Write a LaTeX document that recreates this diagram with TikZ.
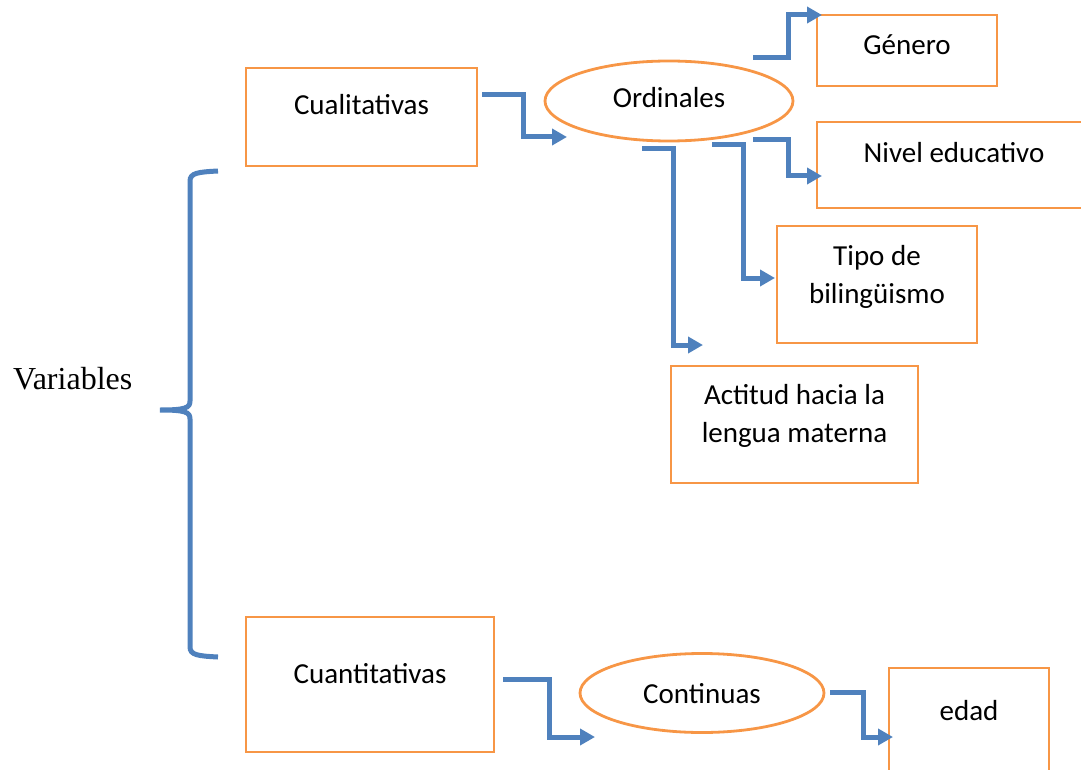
\documentclass[tikz,border=0pt]{standalone}
\usepackage{fontspec}
\setmainfont{Carlito}
\newfontfamily\varfont{Liberation Serif}
\usetikzlibrary{arrows.meta,shapes.geometric}

\definecolor{boxorange}{RGB}{247,150,70}
\definecolor{linkblue}{RGB}{79,129,189}

\tikzset{
  box/.style={draw=boxorange, line width=2.8pt, outer sep=0pt, inner sep=0pt,
    align=center, font=\fontsize{29}{38}\selectfont},
  oval/.style={box, ellipse},
  link/.style={draw=linkblue, line width=5pt, -{Triangle[length=15pt,width=16pt]}},
  lift/.style={text height=0pt, text depth=#1},
  drop/.style={text height=#1, text depth=0pt},
}

\begin{document}
\begin{tikzpicture}[x=1pt,y=-1pt]
\useasboundingbox (0,0) rectangle (1081,770);

% titulo y llave
\node[anchor=base west, inner sep=0pt, font=\varfont\fontsize{32}{36}\selectfont] (var) at (13,389) {Variables};
\draw[linkblue, line width=5pt] (218,171) .. controls (198,172) and (190,173) .. (190,181)
  -- (190,401) .. controls (190,408) and (185,410) .. (160,410)
  .. controls (185,410) and (190,412) .. (190,419)
  -- (190,647) .. controls (190,655) and (198,656) .. (218,657);

% cualitativas
\node[box, minimum width=231, minimum height=98, lift=4pt] (cuali) at (361.5,117) {Cualitativas};
\node[oval, minimum width=248, minimum height=80, drop=14pt] (ordi) at (669,101) {Ordinales};
\node[box, minimum width=180, minimum height=71, drop=9pt] (genero) at (907,50.5) {Género};
\node[box, minimum width=274, minimum height=86, lift=4pt] (nivel) at (954,165) {Nivel educativo};
\node[box, minimum width=200, minimum height=117, drop=37pt] (tipo) at (877,284.5) {Tipo de\\bilingüismo};
\node[box, minimum width=247, minimum height=117, drop=35pt] (actitud) at (794.5,424.5) {Actitud hacia la\\lengua materna};

% cuantitativas
\node[box, minimum width=248, minimum height=135, lift=3pt] (cuanti) at (370,684.5) {Cuantitativas};
\node[oval, minimum width=244, minimum height=79, drop=20pt] (conti) at (702,693) {Continuas};
\node[box, minimum width=160, minimum height=132, lift=28pt] (edad) at (969,734) {edad};

% flechas
\draw[link] (cuali.east) ++(5,-22) -| ++(41,42) -- ([shift={(22,36)}]ordi.west);
\draw[link] (ordi.east) ++(-40,-43) -| ++(35,-43) -- ([xshift=5]genero.north west);
\draw[link] (ordi.east) ++(-40,39) -| ++(35,36) -- ([shift={(5,11)}]nivel.west);
\draw[link] (ordi.south) ++(43,4) -| ++(31,133) -- ([shift={(-2,-6.5)}]tipo.west);
\draw[link] (ordi.south) ++(-27,8) -| ++(31,196) -- ([shift={(32,-21)}]actitud.north west);
\draw[link] (cuanti.east) ++(9,-5.5) -| ++(46,58) -- ([shift={(15,44)}]conti.west);
\draw[link] (conti.east) ++(6,-1) -| ++(33,45) -- ([shift={(4,3)}]edad.west);
\end{tikzpicture}
\end{document}
